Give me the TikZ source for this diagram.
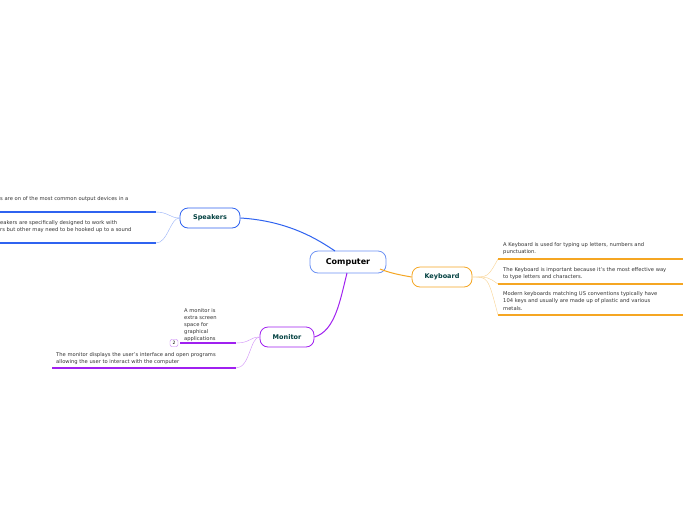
\documentclass[tikz,border=0pt]{standalone}
\usepackage{fontspec}
\setmainfont{DejaVu Sans}
\begin{document}
\begin{tikzpicture}[x=1pt,y=-1pt,
  topic/.style={draw,rounded corners=8pt,fill=white,font=\bfseries\fontsize{6.5}{8}\selectfont,text=teal!50!black,line width=0.8pt},
  leaf/.style={anchor=north west,align=left,font=\fontsize{5.2}{7.2}\selectfont,text=black!80,inner sep=0pt},
  conn/.style={line width=1pt}]
\useasboundingbox (0,0) rectangle (696,520);
\fill[white] (0,0) rectangle (696,520);
\definecolor{cb}{HTML}{2F63F0}
\definecolor{co}{HTML}{F5A623}
\definecolor{cp}{HTML}{A020F0}
% central
\node[topic,draw=cb!70,minimum width=76,minimum height=22,text=black,font=\bfseries\fontsize{8}{10}\selectfont] (c) at (348,262) {Computer};
\node[topic,draw=cb,minimum width=60,minimum height=20] (sp) at (210,218) {Speakers};
\node[topic,draw=co,minimum width=60,minimum height=20] (kb) at (442,277) {Keyboard};
\node[topic,draw=cp,minimum width=54,minimum height=20] (mo) at (287,337) {Monitor};
\draw[conn,cb] (sp.east) .. controls (290,221) and (320,241) .. (335,251);
\draw[conn,co] (kb.west) .. controls (400,275) and (390,273) .. (380,269);
\draw[conn,cp] (mo.east) .. controls (335,331) and (340,301) .. (347,273);
% speakers leaves
\coordinate (s1) at (156,212); \coordinate (s2) at (156,243);
\draw[cb,line width=1.2pt] (0,212) -- (s1);
\draw[cb,line width=1.2pt] (0,243) -- (s2);
\draw[cb!50] (sp.west) .. controls (170,218) and (168,212) .. (s1);
\draw[cb!50] (sp.west) .. controls (170,218) and (168,243) .. (s2);
\node[leaf] (st1) at (0,196) {s are on of the most common output devices in a};
\node[leaf] (st2) at (0,220.5) {eakers are specifically designed to work with\\rs but other may need to be hooked up to a sound};
% keyboard leaves
\coordinate (k1) at (498,259); \coordinate (k2) at (498,284); \coordinate (k3) at (498,315);
\foreach \k in {k1,k2,k3}{
  \draw[co,line width=1.2pt] (\k) -- ++(185,0);
  \draw[co!50] (kb.east) .. controls (488,277) and (488,277) .. (\k);
}
\node[leaf] (kt1) at (503,242.5) {A Keyboard is used for typing up letters, numbers and\\punctuation.};
\node[leaf] (kt2) at (503,267.5) {The Keyboard is important because it's the most effective way\\to type letters and characters.};
\node[leaf] (kt3) at (503,291.5) {Modern keyboards matching US conventions typically have\\104 keys and usually are made up of plastic and various\\metals.};
% monitor leaves
\coordinate (m1) at (236,343); \coordinate (m2) at (236,368);
\draw[cp,line width=1.2pt] (180,343) -- (m1);
\draw[cp,line width=1.2pt] (52,368) -- (m2);
\draw[cp!50] (mo.west) .. controls (250,337) and (250,343) .. (m1);
\draw[cp!50] (mo.west) .. controls (250,337) and (250,368) .. (m2);
\node[leaf] (mt1) at (184,308) {A monitor is\\extra screen\\space for\\graphical\\applications};
\node[draw=cp!60,rounded corners=2pt,font=\fontsize{4.5}{5}\selectfont,inner sep=1pt,minimum width=8,minimum height=7] (badge) at (174,343) {2};
\node[leaf] (mt2) at (56,352) {The monitor displays the user's interface and open programs\\allowing the user to interact with the computer};
\end{tikzpicture}
\end{document}
